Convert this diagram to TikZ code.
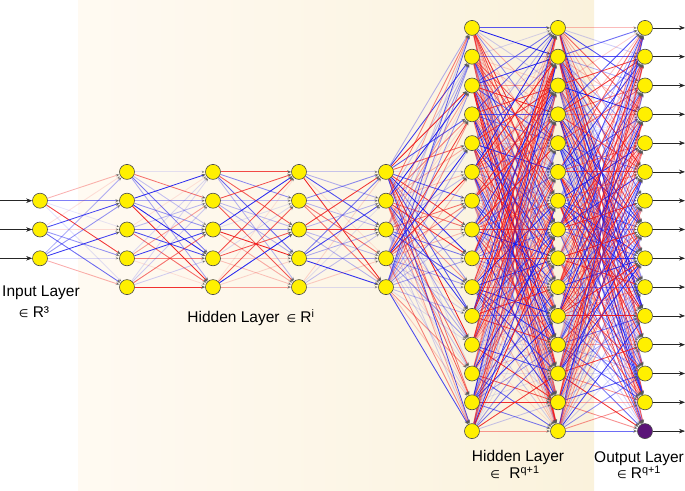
\documentclass[tikz,border=0pt]{standalone}
\usepackage{fontspec}
\setmainfont{Liberation Sans}
\newfontfamily\symfont{DejaVu Sans}
\usetikzlibrary{arrows.meta}
\definecolor{wred}{RGB}{240,25,25}
\definecolor{wblue}{RGB}{25,25,240}
\definecolor{bgL}{RGB}{255,250,242}
\definecolor{bgR}{RGB}{250,242,220}
\definecolor{nodeY}{RGB}{255,240,0}
\definecolor{purp}{RGB}{90,20,120}
\pgfdeclarelayer{bg}
\pgfdeclarelayer{edges}
\pgfsetlayers{bg,edges,main}
\tikzset{
  neuron/.style={circle,draw=black!70,fill=nodeY,minimum size=15pt,inner sep=0pt,line width=0.6pt},
  wedge/.style={line width=0.85pt,-{Stealth[length=4pt,width=3.4pt,color=black!65]}},
  io/.style={-{Stealth[length=6pt,width=4.5pt]},line width=0.6pt,draw=black!85},
  lbl/.style={font=\fontsize{15.5}{16}\selectfont,inner sep=0pt}
}
\begin{document}
\begin{tikzpicture}[x=1pt,y=-1pt]
\useasboundingbox (0,0) rectangle (685,490);
\begin{pgfonlayer}{bg}
\shade[left color=bgL,right color=bgR] (78,0) rectangle (594,490);
\end{pgfonlayer}
% neurons
\foreach \l/\x/\n in {0/40/3,1/127/5,2/213/5,3/299/5,4/386/5,5/472/15,6/558/15}{
  \foreach \i in {1,...,\n}{
    \node[neuron] (n\l-\i) at (\x,{229.5+(\i-(\n+1)/2)*28.8}) {};
  }
}
\foreach \i in {1,...,14}{
  \node[neuron] (n7-\i) at (645,{229.5+(\i-8)*28.8}) {};
}
\node[neuron,fill=purp] (n7-15) at (645,{229.5+7*28.8}) {};
% weighted edges
\pgfmathsetseed{12}
\begin{pgfonlayer}{edges}
\foreach \a/\b/\na/\nb in {0/1/3/5,1/2/5/5,2/3/5/5,3/4/5/5,4/5/5/15,5/6/15/15,6/7/15/15}{
  \foreach \i in {1,...,\na}{
    \foreach \j in {1,...,\nb}{
      \pgfmathsetmacro\wop{0.1+0.9*rnd^1.3}
      \pgfmathsetmacro\wsel{rnd<0.5?1:0}
      \ifdim\wsel pt>0.5pt \def\wcol{wred}\else\def\wcol{wblue}\fi
      \draw[wedge,draw=\wcol,draw opacity=\wop] (n\a-\i) -- (n\b-\j);
    }
  }
}
\end{pgfonlayer}
% input / output arrows
\foreach \i in {1,2,3}{
  \coordinate (in\i) at (0,{229.5+(\i-2)*28.8});
  \draw[io] (in\i) -- (n0-\i);
}
\foreach \i in {1,...,15}{
  \coordinate (out\i) at (685,{229.5+(\i-8)*28.8});
  \draw[io] (n7-\i) -- (out\i);
}
% labels
\node[lbl] (lin) at (41,293) {Input Layer};
\node[lbl] (linr) at (34,312) {{\symfont\fontsize{11}{12}\selectfont ∈} R³};
\node[lbl] (lh1) at (251,318) {Hidden Layer\, {\symfont\fontsize{11}{12}\selectfont ∈} R\textsuperscript{i}};
\node[lbl] (lh2) at (518,457) {Hidden Layer};
\node[lbl] (lh2r) at (515,472) {{\symfont\fontsize{11}{12}\selectfont ∈}\,\, R\textsuperscript{q+1}};
\node[lbl] (lout) at (639,459) {Output Layer};
\node[lbl] (loutr) at (639,472) {{\symfont\fontsize{11}{12}\selectfont ∈} R\textsuperscript{q+1}};
\end{tikzpicture}
\end{document}
